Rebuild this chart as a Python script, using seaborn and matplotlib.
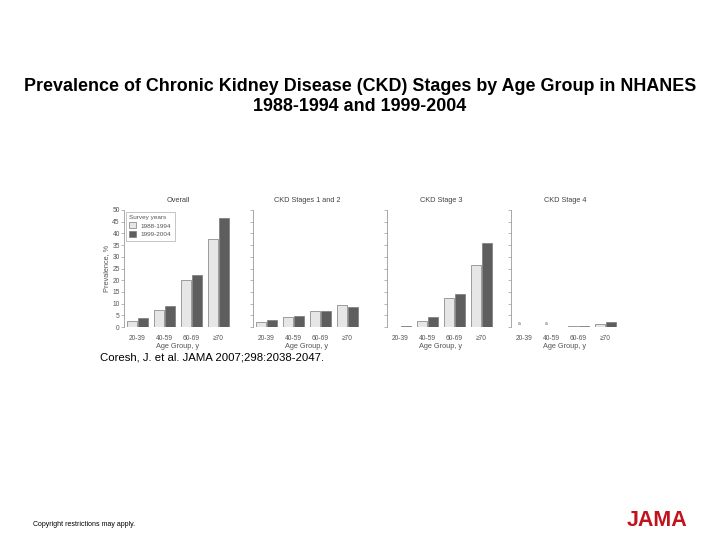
import pandas as pd
import seaborn as sns
import matplotlib.pyplot as plt

# -------------------------------------------------
# Data
# -------------------------------------------------
age_groups = ["20-39", "40-59", "60-69", "≥70"]
surveys = ["1988-1994", "1999-2004"]
panel_titles = ["Overall", "CKD Stages 1 and 2", "CKD Stage 3", "CKD Stage 4"]

overall_8894 = [2.4, 7.2, 20.1, 37.8]
overall_9904 = [4.0, 8.9, 22.3, 46.7]
stage12_8894 = [2.2, 4.2, 7.0, 9.6]
stage12_9904 = [2.9, 4.6, 7.0, 8.5]
stage3_8894 = [0.15, 2.7, 12.4, 26.6]
stage3_9904 = [0.4, 4.2, 14.2, 35.9]
stage4_8894 = [0.0, 0.0, 0.3, 1.4]
stage4_9904 = [0.0, 0.0, 0.5, 2.0]
stage4_footnote = ["a", "a", "", ""]

y_ticks = list(range(0, 55, 5))

panels = [
    (overall_8894, overall_9904),
    (stage12_8894, stage12_9904),
    (stage3_8894, stage3_9904),
    (stage4_8894, stage4_9904),
]

# -------------------------------------------------
# Style
# -------------------------------------------------
sns.set_style("white")
plt.rcParams["font.family"] = ["Liberation Sans", "DejaVu Sans"]
txt_gray = "#555555"
palette = {"1988-1994": "#e6e6e6", "1999-2004": "#5e5e5e"}

fig = plt.figure(figsize=(7.2, 5.4), dpi=100)

# axes left edges in pixels, shared vertical extent
lefts_px = [124, 253, 387, 511]
ax_w_px = 108
bottom_px, top_px = 327, 210

for i, (vals_a, vals_b) in enumerate(panels):
    df = pd.DataFrame({
        "Age Group": age_groups * 2,
        "Prevalence": list(vals_a) + list(vals_b),
        "Survey years": [surveys[0]] * 4 + [surveys[1]] * 4,
    })
    ax = fig.add_axes([
        lefts_px[i] / 720,
        1 - bottom_px / 540,
        ax_w_px / 720,
        (bottom_px - top_px) / 540,
    ])
    sns.barplot(
        data=df, x="Age Group", y="Prevalence", hue="Survey years",
        order=age_groups, hue_order=surveys, palette=palette,
        edgecolor="#7a7a7a", linewidth=0.5, width=0.8, gap=0.12,
        legend=(i == 0), ax=ax,
    )
    ax.set_ylim(0, 50)
    ax.set_xlim(-0.5, 3.5)
    ax.set_yticks(y_ticks)
    for side in ["top", "right", "bottom"]:
        ax.spines[side].set_visible(False)
    ax.spines["left"].set_color("#9a9a9a")
    ax.spines["left"].set_linewidth(0.6)
    ax.tick_params(axis="y", left=True, length=2, width=0.5, color="#9a9a9a",
                   labelsize=4.8, labelcolor=txt_gray, pad=1)
    ax.tick_params(axis="x", bottom=False, labelsize=4.8, labelcolor=txt_gray, pad=2)
    ax.set_xlabel("Age Group, y", fontsize=5.3, color=txt_gray, labelpad=1)
    ax.set_title(panel_titles[i], fontsize=5.3, color="#444444", pad=6)
    if i == 0:
        ax.set_ylabel("Prevalence, %", fontsize=5.3, color=txt_gray, labelpad=2)
        leg = ax.legend(title="Survey years", loc="upper left", fontsize=4.6,
                        title_fontsize=4.6, frameon=True, fancybox=False,
                        edgecolor="#9a9a9a", handlelength=1.1, handleheight=1.1,
                        borderaxespad=0.25, borderpad=0.5, labelspacing=0.4,
                        alignment="left")
        leg.get_frame().set_linewidth(0.5)
        for t in leg.get_texts():
            t.set_color(txt_gray)
        leg.get_title().set_color(txt_gray)
    else:
        ax.set_ylabel("")
        ax.set_yticklabels([])
    if i == 3:
        for j, note in enumerate(stage4_footnote):
            if note:
                ax.text(j - 0.2, 0.4, note, fontsize=3.5, color=txt_gray,
                        ha="center", va="bottom")

# -------------------------------------------------
# Slide text
# -------------------------------------------------
fig.text(0.5, 1 - 96.5 / 540,
         "Prevalence of Chronic Kidney Disease (CKD) Stages by Age Group in NHANES\n1988-1994 and 1999-2004",
         ha="center", va="center", fontsize=12.9, fontweight="bold",
         linespacing=1.2, color="black")
fig.text(100 / 720, 1 - 357 / 540, "Coresh, J. et al. JAMA 2007;298:2038-2047.",
         ha="left", va="center", fontsize=8.2, color="black")
fig.text(33 / 720, 1 - 525 / 540, "Copyright restrictions may apply.",
         ha="left", va="center", fontsize=5, color="black")
fig.text(657 / 720, 1 - 521 / 540, "JAMA", ha="center", va="center",
         fontsize=15.5, fontweight="bold", color="#c0141c")

fig.savefig("out.png", dpi=100)
